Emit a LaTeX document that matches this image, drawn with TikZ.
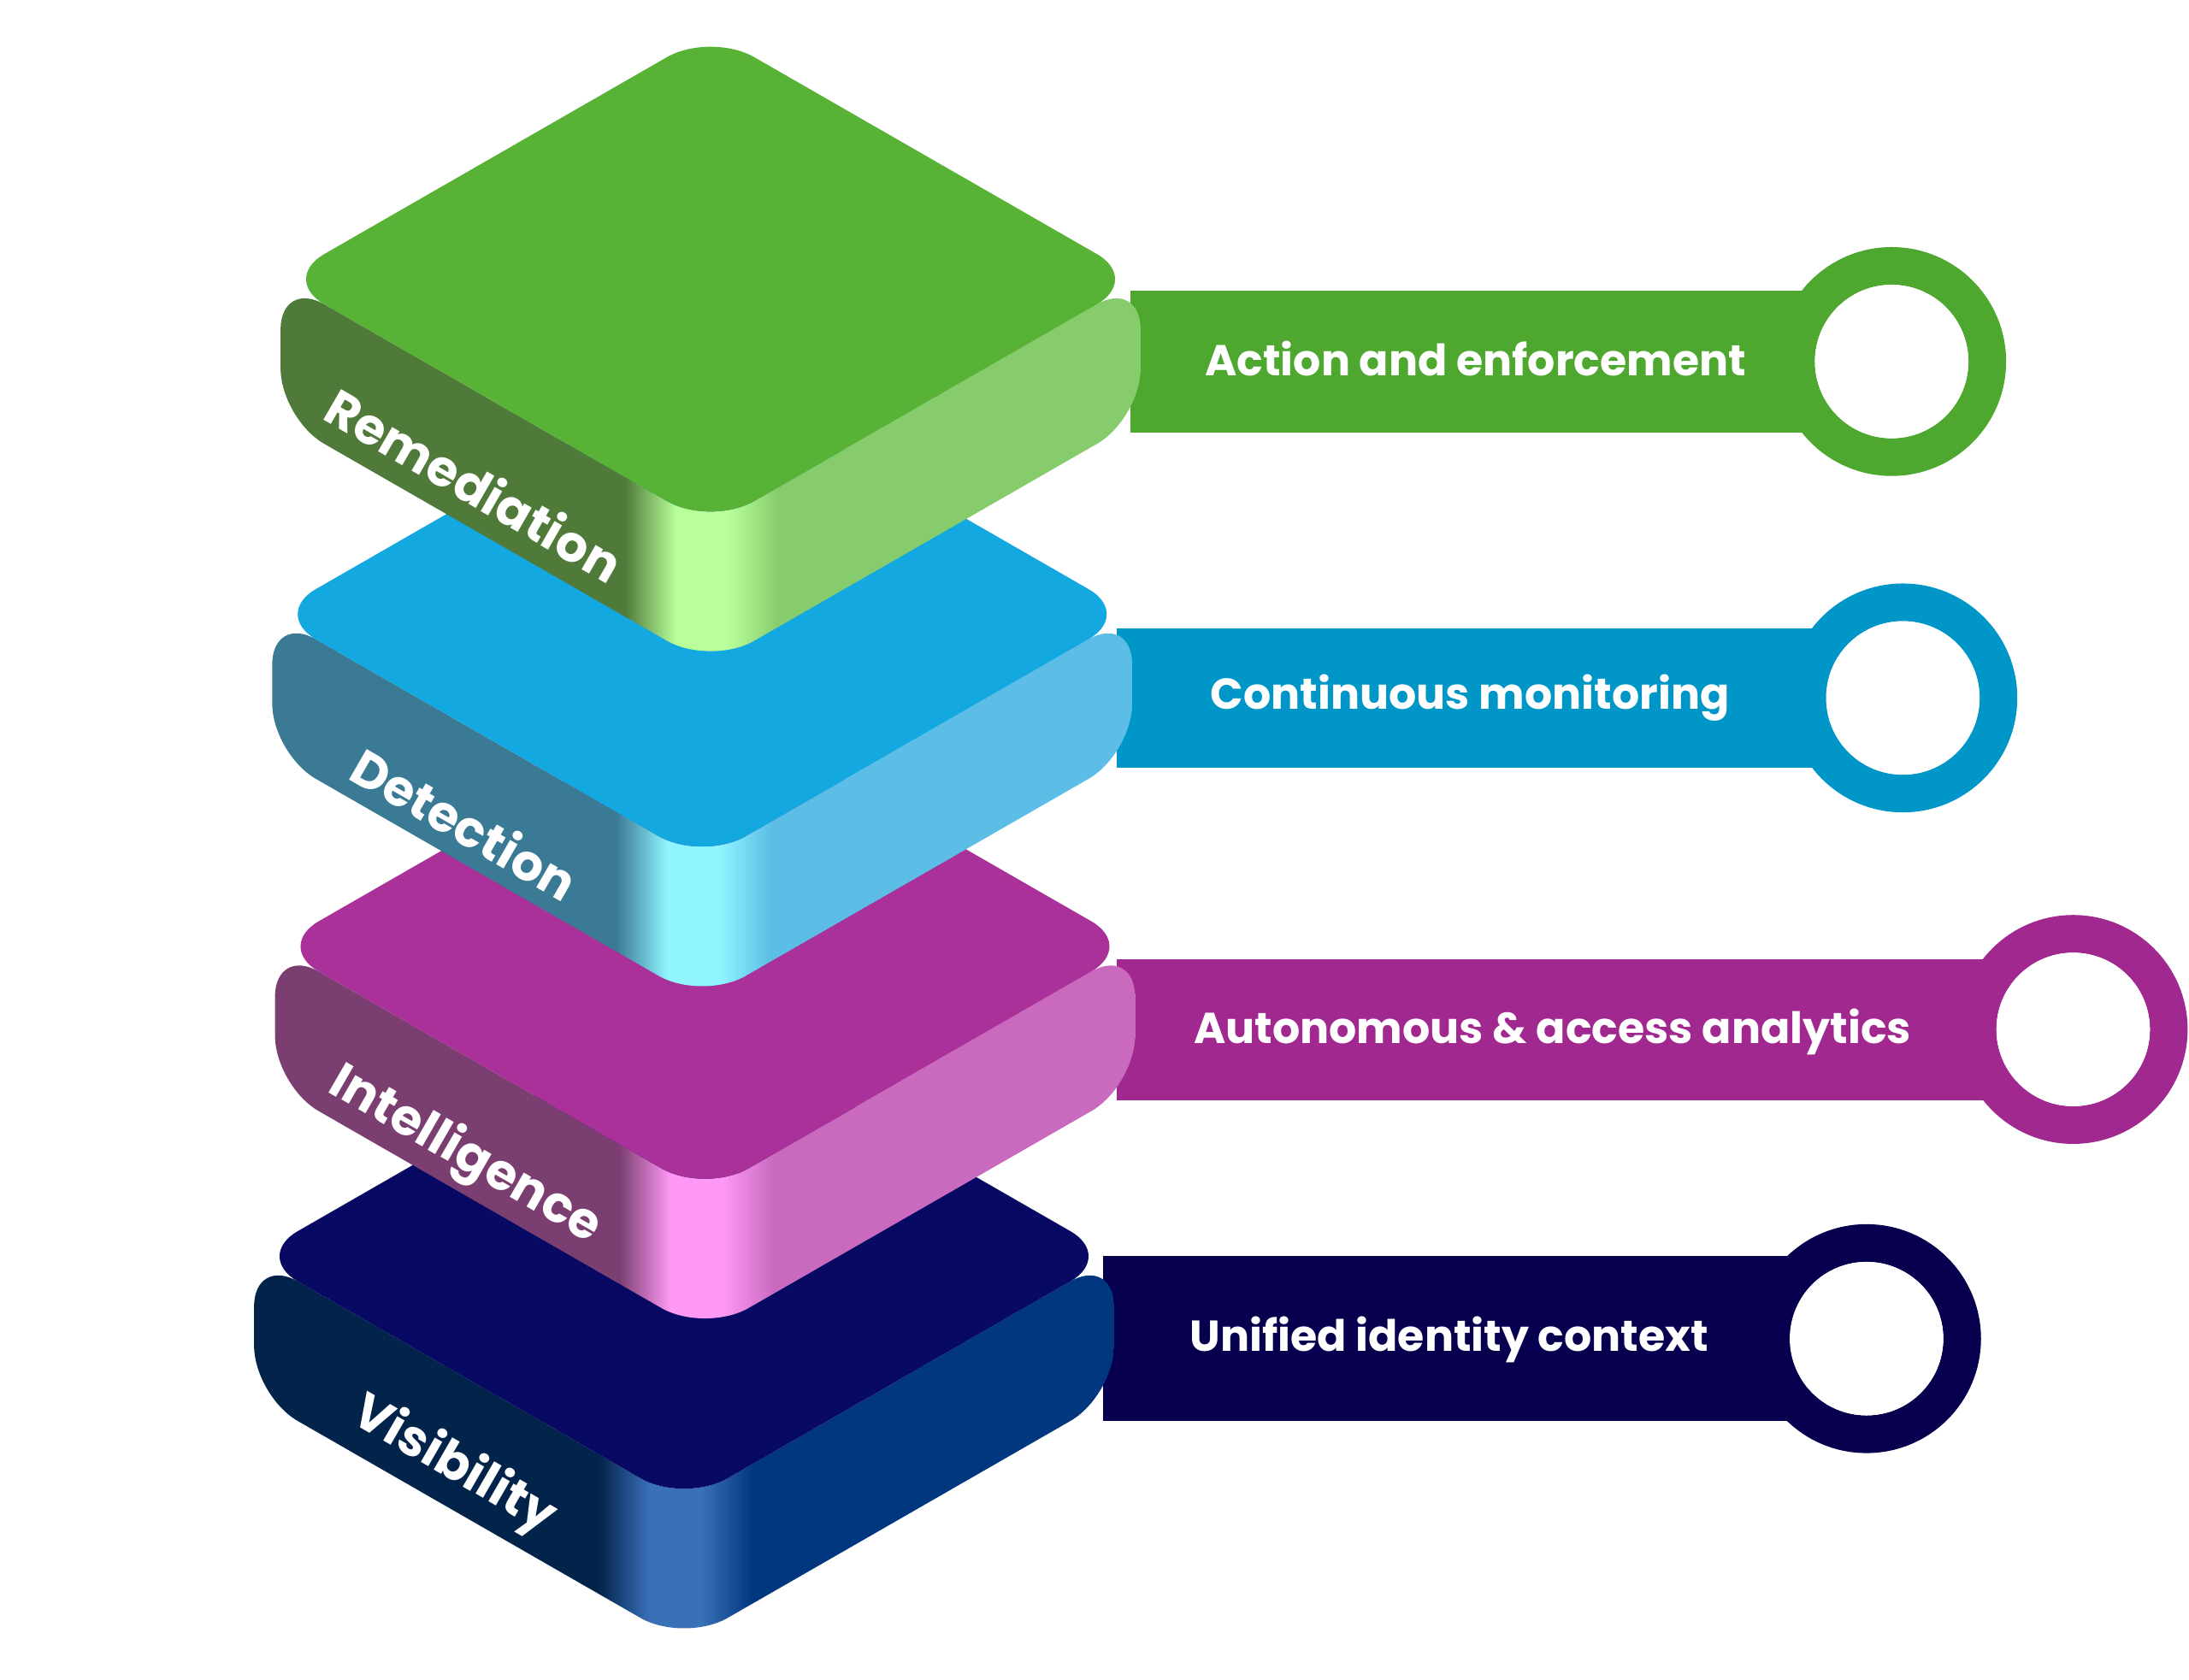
\documentclass[tikz,border=0pt]{standalone}
\usepackage{fontspec}
\setmainfont{Poppins}
\definecolor{gT}{HTML}{58B236}\definecolor{gL}{HTML}{4F7A3A}\definecolor{gH}{HTML}{B8FF9A}\definecolor{gR}{HTML}{86CB6C}\definecolor{gB}{HTML}{4EA72E}
\definecolor{bT}{HTML}{14A8E1}\definecolor{bL}{HTML}{3A7A95}\definecolor{bH}{HTML}{90F5FF}\definecolor{bR}{HTML}{5CBEE6}\definecolor{bB}{HTML}{0096C8}
\definecolor{pT}{HTML}{AA309A}\definecolor{pL}{HTML}{7A3E70}\definecolor{pH}{HTML}{FF99F5}\definecolor{pR}{HTML}{C96ABF}\definecolor{pB}{HTML}{A0288F}
\definecolor{nT}{HTML}{070963}\definecolor{nL}{HTML}{02234A}\definecolor{nH}{HTML}{3A70B8}\definecolor{nR}{HTML}{00377F}\definecolor{nB}{HTML}{06004F}
\newcommand{\mkshade}[1]{\pgfdeclarehorizontalshading{#1side}{100bp}{color(0bp)=(#1L); color(45bp)=(#1L); color(48bp)=(#1H); color(51bp)=(#1H); color(54bp)=(#1R); color(100bp)=(#1R)}}
\mkshade{g}\mkshade{b}\mkshade{p}\mkshade{n}
\tikzset{bartext/.style={text=white,font=\bfseries\fontsize{15.5}{16}\selectfont},
sidelabel/.style={text=white,font=\bfseries\fontsize{18}{18}\selectfont,rotate=-30}}
\newcommand{\tile}[3]{% cx cy colorprefix
\begin{scope}[shift={(#1,#2)}]
\shade[shading=#3side,rounded corners=18pt]
 (-308,0)--(0,177)--(308,0)--(308,100)--(0,277)--(-308,100)--cycle;
\fill[#3T,rounded corners=18pt] (-308,0)--(0,-177)--(308,0)--(0,177)--cycle;
\end{scope}}
\newcommand{\barring}[6]{% x1 x2 ytop ybot ringx color
\fill[#6] (#1,#3) rectangle (#2,#4);
\draw[#6,line width=13.5pt] (#5,{(#3+#4)/2}) circle (68.5);
\fill[white] (#5,{(#3+#4)/2}) circle (55);}
\begin{document}
\begin{tikzpicture}[x=0.5pt,y=-0.5pt]
\useasboundingbox (0,0) rectangle (1568,1203);
\barring{790}{1290}{900}{1018}{1337}{nB}
\barring{800}{1430}{687}{788}{1485}{pB}
\barring{800}{1310}{450}{550}{1363}{bB}
\barring{810}{1300}{208}{310}{1355}{gB}
\tile{490}{900}{n}
\tile{505}{678}{p}
\tile{503}{440}{b}
\tile{509}{200}{g}
\node[sidelabel] (vis) at (325,1050) {Visibility};
\node[sidelabel] (int) at (333,828) {Intelligence};
\node[sidelabel] (det) at (333,590) {Detection};
\node[sidelabel] (rem) at (340,347) {Remediation};
\node[bartext] (t1) at (1057,257) {Action and enforcement};
\node[bartext] (t2) at (1053,500) {Continuous monitoring};
\node[bartext] (t3) at (1112,739) {Autonomous \& access analytics};
\node[bartext] (t4) at (1038,960) {Unified identity context};
\end{tikzpicture}
\end{document}
